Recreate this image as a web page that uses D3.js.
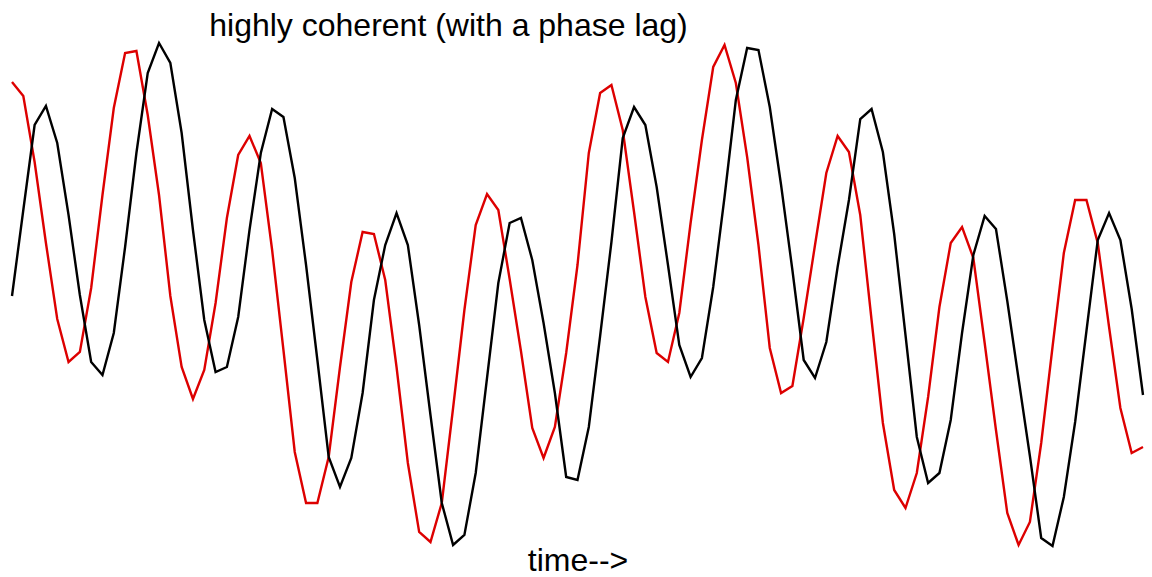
<!DOCTYPE html>
<html>
<head>
<meta charset="utf-8">
<script src="https://cdn.jsdelivr.net/npm/d3@7"></script>
<style>
  html, body { margin: 0; padding: 0; background: #ffffff; }
  svg { display: block; }
  text { font-family: "Liberation Sans", Arial, sans-serif; fill: #000; }
</style>
</head>
<body>
<svg id="chart" width="1152" height="577"></svg>
<script>
// Two sampled signals, the second lagging the first by a few samples.
const sampleIndex = d3.range(101);

const signalA = [
  2.12, 1.98, 1.32, 0.51, -0.25, -0.68, -0.58, 0.06, 0.99, 1.86,
  2.41, 2.43, 1.79, 0.99, -0.02, -0.73, -1.05, -0.76, -0.09, 0.76,
  1.39, 1.58, 1.31, 0.44, -0.56, -1.58, -2.09, -2.09, -1.63, -0.73,
  0.12, 0.62, 0.60, 0.14, -0.73, -1.69, -2.38, -2.48, -2.09, -1.14,
  -0.16, 0.69, 1.00, 0.84, 0.15, -0.57, -1.34, -1.64, -1.33, -0.59,
  0.29, 1.41, 2.01, 2.09, 1.64, 0.82, -0.03, -0.59, -0.68, -0.19,
  0.71, 1.54, 2.27, 2.49, 2.11, 1.37, 0.49, -0.54, -0.99, -0.92,
  -0.24, 0.49, 1.21, 1.58, 1.42, 0.79, -0.26, -1.29, -1.96, -2.14,
  -1.79, -1.03, -0.13, 0.51, 0.67, 0.36, -0.49, -1.36, -2.19, -2.51,
  -2.28, -1.49, -0.53, 0.41, 0.94, 0.94, 0.51, -0.33, -1.14, -1.59,
  -1.53
];

const signalB = [
  -0.02, 0.84, 1.69, 1.88, 1.51, 0.79, -0.01, -0.68, -0.81, -0.39,
  0.47, 1.41, 2.21, 2.51, 2.31, 1.61, 0.64, -0.26, -0.78, -0.73,
  -0.23, 0.64, 1.41, 1.85, 1.77, 1.16, 0.29, -0.66, -1.63, -1.93,
  -1.64, -0.99, -0.06, 0.49, 0.81, 0.49, -0.31, -1.21, -2.09, -2.51,
  -2.41, -1.79, -0.84, 0.11, 0.71, 0.76, 0.34, -0.29, -0.99, -1.83,
  -1.86, -1.33, -0.42, 0.52, 1.56, 1.87, 1.69, 1.07, 0.29, -0.51,
  -0.83, -0.64, 0.07, 0.97, 1.94, 2.46, 2.44, 1.87, 1.09, 0.24,
  -0.66, -0.84, -0.48, 0.27, 0.94, 1.75, 1.85, 1.42, 0.60, -0.41,
  -1.43, -1.89, -1.79, -1.26, -0.39, 0.39, 0.78, 0.65, -0.07, -0.85,
  -1.62, -2.44, -2.52, -2.03, -1.28, -0.37, 0.54, 0.81, 0.54, -0.15,
  -1.01
];

const titleText = "highly coherent (with a phase lag)";
const xLabelText = "time-->";

const svg = d3.select("#chart");

const x = d3.scaleLinear()
  .domain([0, 100])
  .range([12, 1143]);

const y = d3.scaleLinear()
  .domain([-2.5, 2.5])
  .range([544, 44]);

const line = d3.line()
  .x((d, i) => x(sampleIndex[i]))
  .y(d => y(d));

const series = [
  { name: "a", values: signalA, color: "#dd0000" },
  { name: "b", values: signalB, color: "#000000" }
];

svg.append("g")
  .selectAll("path")
  .data(series)
  .join("path")
  .attr("fill", "none")
  .attr("stroke", d => d.color)
  .attr("stroke-width", 2.4)
  .attr("stroke-linejoin", "miter")
  .attr("stroke-miterlimit", 10)
  .attr("d", d => line(d.values));

svg.append("text")
  .attr("x", 448.5)
  .attr("y", 36)
  .attr("text-anchor", "middle")
  .attr("font-size", 32)
  .text(titleText);

svg.append("text")
  .attr("x", 578)
  .attr("y", 571)
  .attr("text-anchor", "middle")
  .attr("font-size", 32)
  .text(xLabelText);
</script>
</body>
</html>
